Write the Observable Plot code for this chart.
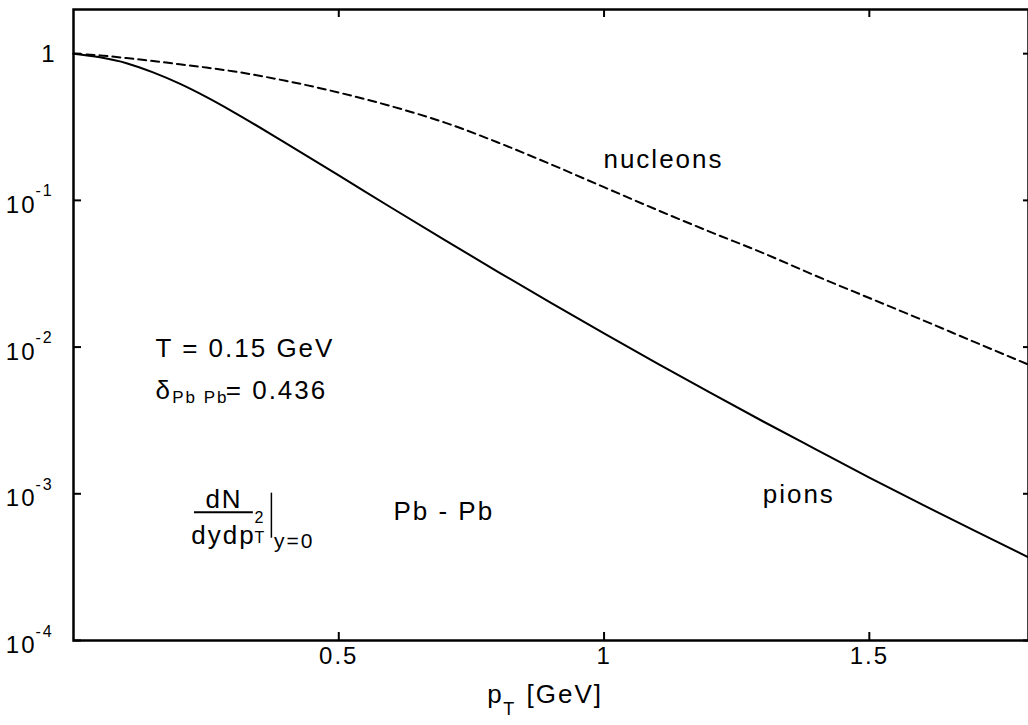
<!DOCTYPE html>
<html>
<head>
<meta charset="utf-8">
<script src="https://cdn.jsdelivr.net/npm/d3@7"></script>
<script src="https://cdn.jsdelivr.net/npm/@observablehq/plot@0.6"></script>
<style>
  html, body { margin: 0; padding: 0; background: #fff; }
</style>
</head>
<body>
<div id="chart"></div>
<script>
// transverse momentum grid [GeV]
const pT = [0, 0.05, 0.1, 0.15, 0.2, 0.25, 0.3, 0.4, 0.5, 0.6, 0.7, 0.8, 0.9, 1.0,
            1.1, 1.2, 1.3, 1.4, 1.5, 1.6, 1.7, 1.8];
// dN/dy dpT^2 (normalised) — pions (solid)
const pions = [1.0, 0.944, 0.861, 0.745, 0.624, 0.507, 0.403, 0.2455, 0.148, 0.0887, 0.0536,
               0.0326, 0.0200, 0.01239, 0.00774, 0.00489, 0.00311, 0.00200, 0.00129,
               0.000843, 0.000556, 0.000369];
// nucleons (dashed)
const nucleons = [1.0, 0.973, 0.933, 0.891, 0.847, 0.804, 0.759, 0.653, 0.543, 0.437, 0.339,
                  0.248, 0.176, 0.123, 0.0861, 0.0610, 0.0437, 0.0305, 0.0216, 0.0153,
                  0.01076, 0.00759];

const xTickValues = [0.5, 1, 1.5];
const xTickLabels = ["0.5", "1", "1.5"];
const yTickValues = [1, 0.1, 0.01, 0.001, 0.0001];
const yTickBase = ["1", "10", "10", "10", "10"];
const yTickExp = ["", "-1", "-2", "-3", "-4"];

const pionData = pT.map((x, i) => ({x, y: pions[i]}));
const nucleonData = pT.map((x, i) => ({x, y: nucleons[i]}));

const W = 1028, H = 725;
const mL = 73, mR = 0, mT = 9, mB = 85;
const frameW = W - mL - mR, frameH = H - mT - mB;
const tickLen = 8;

const decadeTicks = yTickValues.slice(1);
const FS = 26;

const chart = Plot.plot({
  width: W,
  height: H,
  marginLeft: mL,
  marginRight: mR,
  marginTop: mT,
  marginBottom: mB,
  style: {fontFamily: "'Liberation Sans', Arial, Helvetica, sans-serif", letterSpacing: "2px", background: "white", color: "black"},
  x: {domain: [0, 1.8], axis: null},
  y: {type: "log", domain: [1e-4, 2], axis: null},
  marks: [
    // curves
    Plot.line(pionData, {x: "x", y: "y", stroke: "black", strokeWidth: 2, curve: "monotone-x"}),
    Plot.line(nucleonData, {x: "x", y: "y", stroke: "black", strokeWidth: 2, strokeDasharray: "8,5", curve: "monotone-x"}),
    // frame
    Plot.frame({stroke: "black", strokeWidth: 2.5}),
    // inward ticks
    Plot.ruleX(xTickValues, {x: d => d, insetTop: frameH - tickLen, stroke: "black", strokeWidth: 2}),
    Plot.ruleX(xTickValues, {x: d => d, insetBottom: frameH - tickLen, stroke: "black", strokeWidth: 2}),
    Plot.ruleY(yTickValues, {y: d => d, insetRight: frameW - tickLen, stroke: "black", strokeWidth: 2}),
    Plot.ruleY(yTickValues, {y: d => d, insetLeft: frameW - 5, stroke: "black", strokeWidth: 2}),
    // x tick labels
    Plot.text(xTickValues, {x: d => d, text: (d, i) => xTickLabels[i], frameAnchor: "bottom", dy: 23, fontSize: 24, fill: "black"}),
    // y tick labels
    Plot.text(yTickValues.slice(0, 1), {y: d => d, text: (d, i) => yTickBase[i], frameAnchor: "left", textAnchor: "end", dx: -17, dy: 1, fontSize: 24, fill: "black"}),
    Plot.text(decadeTicks, {y: d => d, text: (d, i) => yTickBase[i + 1], frameAnchor: "left", textAnchor: "end", dx: -37, dy: 5, fontSize: 24, fill: "black"}),
    Plot.text(decadeTicks, {y: d => d, text: (d, i) => yTickExp[i + 1], frameAnchor: "left", textAnchor: "start", dx: -38, dy: -9, fontSize: 16, fill: "black", letterSpacing: "0px"}),
    // x axis label  p_T [GeV]
    Plot.text([0.780], {x: d => d, text: () => "p", frameAnchor: "bottom", textAnchor: "start", dy: 62, fontSize: FS, fill: "black"}),
    Plot.text([0.81], {x: d => d, text: () => "T", frameAnchor: "bottom", textAnchor: "start", dy: 74, fontSize: 18, fill: "black"}),
    Plot.text([0.854], {x: d => d, text: () => "[GeV]", frameAnchor: "bottom", textAnchor: "start", dy: 62, fontSize: FS, fill: "black"}),
    // curve labels
    Plot.text([{x: 1.112, y: 0.19}], {x: "x", y: "y", text: () => "nucleons", fontSize: FS, fill: "black"}),
    Plot.text([{x: 1.367, y: 0.00098}], {x: "x", y: "y", text: () => "pions", fontSize: FS, fill: "black"}),
    // parameters
    Plot.text([{x: 0.1546, y: 0.0098}], {x: "x", y: "y", text: () => "T = 0.15 GeV", textAnchor: "start", fontSize: FS, fill: "black"}),
    Plot.text([{x: 0.1546, y: 0.00508}], {x: "x", y: "y", text: () => "δ", textAnchor: "start", fontSize: FS, fill: "black"}),
    Plot.text([{x: 0.186, y: 0.0045}], {x: "x", y: "y", text: () => "Pb Pb", textAnchor: "start", fontSize: 17, fill: "black", letterSpacing: "0px"}),
    Plot.text([{x: 0.287, y: 0.00508}], {x: "x", y: "y", text: () => "= 0.436", textAnchor: "start", fontSize: FS, fill: "black", letterSpacing: "1.5px"}),
    // dN / dy dpT^2 |y=0
    Plot.text([{x: 0.2837, y: 9.18e-4}], {x: "x", y: "y", text: () => "dN", fontSize: FS, fill: "black"}),
    Plot.ruleY([7.48e-4], {y: d => d, x1: 0.228, x2: 0.339, stroke: "black", strokeWidth: 2}),
    Plot.text([{x: 0.222, y: 5.22e-4}], {x: "x", y: "y", text: () => "dydp", textAnchor: "start", fontSize: FS, fill: "black", letterSpacing: "1px"}),
    Plot.text([{x: 0.341, y: 5.0e-4}], {x: "x", y: "y", text: () => "T", textAnchor: "start", fontSize: 16, fill: "black", letterSpacing: "0px"}),
    Plot.text([{x: 0.341, y: 6.9e-4}], {x: "x", y: "y", text: () => "2", textAnchor: "start", fontSize: 16, fill: "black", letterSpacing: "0px"}),
    Plot.ruleX([0.373], {x: d => d, y1: 1.01e-3, y2: 4.98e-4, stroke: "black", strokeWidth: 1.5}),
    Plot.text([{x: 0.378, y: 4.75e-4}], {x: "x", y: "y", text: () => "y=0", textAnchor: "start", fontSize: 21, fill: "black", letterSpacing: "3px"}),
    Plot.text([{x: 0.603, y: 7.6e-4}], {x: "x", y: "y", text: () => "Pb - Pb", textAnchor: "start", fontSize: FS, fill: "black"})
  ]
});
document.getElementById("chart").appendChild(chart);
</script>
</body>
</html>
